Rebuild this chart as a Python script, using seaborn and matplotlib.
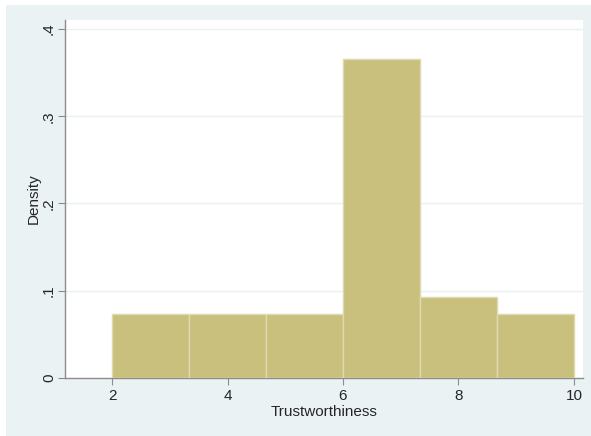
import matplotlib
matplotlib.use("Agg")
import matplotlib.pyplot as plt
import seaborn as sns
import numpy as np
from matplotlib.patches import Rectangle

bin_edges = [2, 10/3, 14/3, 6, 22/3, 26/3, 10]
densities = [0.0734, 0.0734, 0.0734, 0.3656, 0.0928, 0.0734]
x_ticks = [2, 4, 6, 8, 10]
y_ticks = [0, 0.1, 0.2, 0.3, 0.4]
y_ticklabels = ["0", ".1", ".2", ".3", ".4"]

sns.set_style("white")
plt.rcParams['font.family'] = ['Liberation Sans', 'DejaVu Sans']

W, H = 591, 436
fig = plt.figure(figsize=(W/100, H/100), dpi=100)
fig.patch.set_facecolor("white")
fig.patches.append(Rectangle((6/W, 0), 1, 1 - 5/H, transform=fig.transFigure,
                             facecolor="#EAF2F3", edgecolor="none", zorder=-5))

ax = fig.add_axes([65/W, 1 - 378/H, (583-65)/W, (378-20)/H])
ax.set_zorder(1)
ax.set_facecolor("white")

centers = [(bin_edges[i] + bin_edges[i+1]) / 2 for i in range(len(densities))]
sns.histplot(x=centers, weights=densities, bins=bin_edges, stat="count",
             color="#C9C07E", edgecolor="#DEDAAE", linewidth=1.0, alpha=1,
             ax=ax, zorder=3)

ax.set_xlim(1.186, 10.156)
ax.set_ylim(0, 0.4103)
ax.set_xticks(x_ticks)
ax.set_xticklabels([str(t) for t in x_ticks], fontsize=11)
ax.set_yticks(y_ticks)
ax.set_yticklabels(y_ticklabels, fontsize=11, rotation=90, va="center")
for y in y_ticks[1:]:
    ax.axhline(y, color="#EAF2F3", linewidth=1.0, zorder=1)

for s in ["top", "right"]:
    ax.spines[s].set_visible(False)
for s in ["left", "bottom"]:
    ax.spines[s].set_color("#8C8C8C")
    ax.spines[s].set_linewidth(1.0)
ax.tick_params(axis="x", which="both", direction="out", length=5,
               width=0.8, color="#8C8C8C", bottom=True, pad=3)
ax.tick_params(axis="y", which="both", direction="out", length=5,
               width=0.8, color="#8C8C8C", left=True, pad=1.5)

ax.set_xlabel("Trustworthiness", fontsize=11, labelpad=1)
ax.set_ylabel("Density", fontsize=11, labelpad=1)

fig.savefig("out.png", dpi=100, facecolor=fig.get_facecolor())
